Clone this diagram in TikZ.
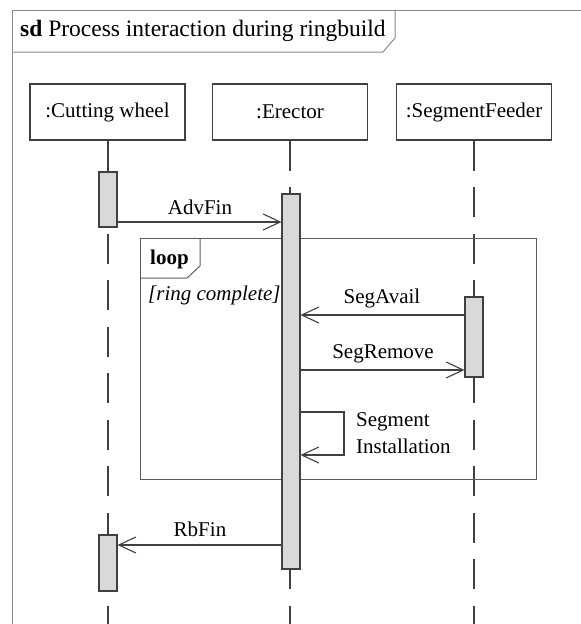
\documentclass[tikz,border=0pt]{standalone}
\usepackage{fontspec}
\setmainfont{Liberation Serif}
\usetikzlibrary{arrows.meta}
\definecolor{linedark}{HTML}{404040}
\definecolor{framegray}{HTML}{8A8A8A}
\definecolor{actfill}{HTML}{D9D9D9}
\tikzset{
  txt/.style={font=\fontsize{21}{25}\selectfont, text=black, inner sep=0pt},
  head/.style={draw=linedark, line width=1.3pt, fill=white, minimum width=155pt,
    minimum height=56pt, inner sep=0pt, font=\fontsize{21}{25}\selectfont},
  lifeline/.style={draw=linedark, line width=1.6pt, dash pattern=on 30pt off 16.5pt},
  act/.style={draw=linedark, line width=1.1pt, fill=actfill, minimum width=18pt,
    inner sep=0pt},
  msg/.style={draw=linedark, line width=1.3pt,
    -{Straight Barb[length=17pt,width=16pt,line width=1.1pt]}},
  framebox/.style={draw=framegray, line width=1pt},
  loopbox/.style={draw=linedark!85, line width=1pt},
}
\begin{document}
\begin{tikzpicture}[x=1pt,y=-1pt]
\useasboundingbox (0,0) rectangle (581,624);
\fill[white] (0,0) rectangle (581,624);

% outer sequence-diagram frame and its name tab
\draw[framebox] (12,624) -- (12,10) -- (581,10);
\draw[framebox] (12,52) -- (383,52) -- (395,38) -- (395,10);
\node[txt, anchor=west, font=\fontsize{23.5}{28}\selectfont] (title) at (20,31)
  {\textbf{sd} Process interaction during ringbuild};

% lifeline heads
\node[head] (cw) at (107.5,112) {:Cutting wheel};
\node[head] (er) at (290,112) {:Erector};
\node[head] (sf) at (474,112) {:SegmentFeeder};

% lifelines
\coordinate (cwEnd) at (108,624);
\coordinate (erEnd) at (290,624);
\coordinate (sfEnd) at (474,624);
\draw[lifeline] (cw.south -| cwEnd) -- (cwEnd);
\draw[lifeline] (er.south -| erEnd) -- (erEnd);
\draw[lifeline] (sf.south -| sfEnd) -- (sfEnd);

% combined fragment: loop
\draw[loopbox] (140,238) rectangle (536,479);
\draw[loopbox] (140,278) -- (187,278) -- (200,266) -- (200,238);
\node[txt, anchor=west] (looplbl) at (150,259) {\textbf{loop}};
\node[txt, anchor=west] (guard) at (148,295) {\textit{[ring complete]}};

% activation bars
\node[act, minimum height=55pt] (cwA1) at (108,199.5) {};
\node[act, minimum height=375pt] (erA) at (291,381.5) {};
\node[act, minimum height=80pt] (sfA) at (474,337) {};
\node[act, minimum height=56pt] (cwA2) at (108,563) {};

% messages
\coordinate (y1) at (0,222);
\coordinate (y2) at (0,315);
\coordinate (y3) at (0,370);
\coordinate (y4) at (0,412);
\coordinate (y5) at (0,455);
\coordinate (y6) at (0,545);
\coordinate (selfx) at (344,0);

\draw[msg] (cwA1.east |- y1) -- (erA.west |- y1);
\node[txt] (m1) at (200,207) {AdvFin};

\draw[msg] (sfA.west |- y2) -- (erA.east |- y2);
\node[txt] (m2) at (382,298) {SegAvail};

\draw[msg] (erA.east |- y3) -- (sfA.west |- y3);
\node[txt] (m3) at (383,354) {SegRemove};

\draw[msg] (erA.east |- y4) -- (selfx |- y4) -- (selfx |- y5) -- (erA.east |- y5);
\node[txt, anchor=west] (m4a) at (356,422) {Segment};
\node[txt, anchor=west] (m4b) at (356,446) {Installation};

\draw[msg] (erA.west |- y6) -- (cwA2.east |- y6);
\node[txt] (m5) at (200,529) {RbFin};
\end{tikzpicture}
\end{document}
